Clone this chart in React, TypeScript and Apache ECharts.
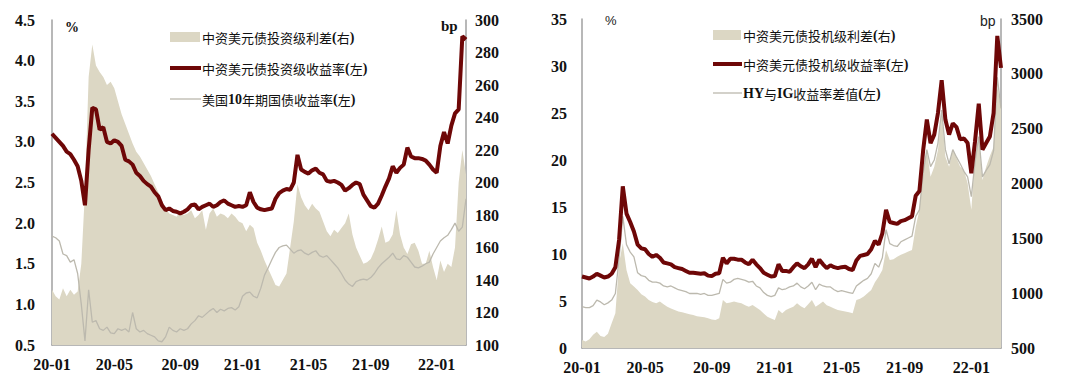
import React, { useEffect, useRef } from "react";
import * as echarts from "echarts";

// Weekly observation dates (Fridays) from 2020-01-03
const START_DATE = "2020-01-03";
const N_WEEKS = 114;
const dates: string[] = [];
{
  const d0 = new Date(START_DATE + "T00:00:00Z");
  for (let i = 0; i < N_WEEKS; i++) {
    const d = new Date(d0.getTime() + i * 7 * 86400000);
    dates.push(d.toISOString().slice(0, 10));
  }
}
const LABEL_MONTHS = [1, 5, 9];

// Left chart: IG
const igSpread = [134, 130, 128, 135, 130, 134, 131, 133, 150, 195, 265, 285, 272, 268, 265, 260, 262, 258, 250, 242,
  236, 230, 224, 219, 216, 212, 208, 204, 199, 194, 189, 184, 181, 180, 179, 182, 180, 181, 183, 178,
  180, 183, 171, 181, 184, 179, 181, 180, 178, 181, 179, 176, 175, 170, 174, 172, 163, 158, 152, 147,
  142, 137, 136, 140, 144, 160, 176, 199, 191, 186, 183, 187, 184, 182, 176, 170, 167, 171, 169, 172,
  175, 181, 168, 160, 155, 150, 151, 153, 158, 165, 173, 163, 164, 168, 183, 168, 160, 156, 162, 163,
  158, 150, 150, 158, 148, 140, 152, 145, 150, 148, 160, 200, 220, 205];
const igYield = [3.10, 3.05, 3.00, 2.95, 2.88, 2.85, 2.78, 2.70, 2.52, 2.22, 2.90, 3.42, 3.40, 3.15, 3.18, 3.00, 2.98, 3.02, 3.00, 2.95,
  2.78, 2.76, 2.72, 2.62, 2.58, 2.52, 2.48, 2.45, 2.38, 2.33, 2.22, 2.16, 2.18, 2.15, 2.14, 2.12, 2.14, 2.17, 2.22, 2.23,
  2.17, 2.20, 2.22, 2.24, 2.20, 2.22, 2.26, 2.28, 2.24, 2.22, 2.20, 2.21, 2.20, 2.22, 2.38, 2.26, 2.19, 2.17, 2.16, 2.17,
  2.18, 2.30, 2.37, 2.40, 2.42, 2.41, 2.50, 2.84, 2.66, 2.63, 2.61, 2.65, 2.67, 2.62, 2.60, 2.52, 2.51, 2.52, 2.50, 2.47,
  2.40, 2.43, 2.47, 2.50, 2.48, 2.35, 2.28, 2.21, 2.19, 2.24, 2.34, 2.45, 2.55, 2.70, 2.62, 2.68, 2.72, 2.93, 2.82, 2.80,
  2.80, 2.79, 2.77, 2.72, 2.66, 2.62, 2.95, 3.12, 2.98, 3.20, 3.35, 3.40, 4.30, 4.26];
const ust10y = [1.84, 1.82, 1.78, 1.62, 1.60, 1.52, 1.55, 1.38, 1.00, 0.55, 1.18, 0.78, 0.80, 0.70, 0.68, 0.72, 0.65, 0.64, 0.70, 0.68,
  0.70, 0.66, 0.90, 0.70, 0.66, 0.68, 0.64, 0.62, 0.60, 0.55, 0.54, 0.60, 0.72, 0.68, 0.66, 0.70, 0.68, 0.70, 0.76, 0.80,
  0.86, 0.84, 0.88, 0.92, 0.95, 0.90, 0.94, 0.92, 0.95, 0.96, 0.93, 0.97, 1.10, 1.14, 1.15, 1.10, 1.08, 1.20, 1.36, 1.45,
  1.55, 1.64, 1.70, 1.72, 1.73, 1.68, 1.63, 1.66, 1.67, 1.63, 1.61, 1.64, 1.66, 1.60, 1.58, 1.60, 1.55, 1.50, 1.45, 1.38,
  1.30, 1.25, 1.22, 1.28, 1.30, 1.31, 1.30, 1.33, 1.38, 1.45, 1.50, 1.54, 1.58, 1.63, 1.56, 1.55, 1.60, 1.58, 1.52, 1.46,
  1.45, 1.47, 1.50, 1.52, 1.62, 1.70, 1.78, 1.82, 1.85, 1.92, 2.00, 1.90, 1.95, 2.30];

// Right chart: HY
const hySpread = [573, 560, 580, 620, 649, 610, 600, 630, 725, 816, 1272, 1455, 1211, 1090, 1060, 1029, 990, 969, 938, 920,
  908, 923, 900, 877, 860, 847, 832, 825, 816, 808, 801, 790, 786, 780, 771, 760, 756, 771, 938, 908,
  915, 923, 915, 908, 890, 877, 893, 870, 847, 815, 786, 770, 756, 847, 816, 847, 862, 877, 908, 880,
  862, 900, 938, 877, 900, 923, 890, 877, 860, 847, 840, 832, 825, 816, 938, 950, 969, 1000, 1029, 1100,
  1150, 1211, 1394, 1302, 1310, 1333, 1350, 1363, 1380, 1394, 1606, 1758, 2123, 2306, 2062, 2153, 2306, 2640, 2245, 2153,
  2306, 2230, 2153, 2123, 2002, 1760, 2245, 2397, 2032, 2153, 2250, 2336, 2880, 2700];
const hyYield = [7.6, 7.5, 7.4, 7.6, 7.9, 7.7, 7.5, 7.6, 7.9, 8.6, 11.5, 17.2, 14.3, 13.4, 12.4, 11.0, 10.6, 10.5, 10.0, 9.7,
  9.9, 9.6, 9.1, 9.0, 8.9, 8.6, 8.5, 8.4, 8.2, 8.0, 8.0, 7.95, 7.9, 7.95, 7.7, 7.65, 7.9, 7.95, 9.6, 9.0,
  9.5, 9.5, 9.4, 9.4, 9.1, 8.9, 9.4, 8.9, 8.5, 8.0, 7.8, 7.6, 7.65, 8.9, 8.2, 8.2, 8.1, 8.6, 9.0, 8.7,
  8.5, 8.9, 9.5, 8.6, 9.4, 8.9, 8.5, 8.8, 8.6, 8.5, 8.6, 8.65, 8.4, 8.3, 9.3, 9.8, 9.9, 10.0, 10.5, 11.4,
  11.0, 12.2, 14.7, 13.4, 13.3, 13.2, 13.5, 13.6, 13.8, 14.0, 16.2, 16.7, 21.0, 24.3, 21.8, 22.7, 25.0, 28.5, 24.3, 22.7,
  23.9, 23.5, 22.2, 22.3, 21.8, 18.6, 22.0, 26.0, 21.1, 21.8, 22.5, 25.0, 33.2, 29.8];
const hyIgDiff = [4.4, 4.3, 4.3, 4.5, 5.1, 4.9, 4.6, 4.8, 5.1, 5.8, 9.5, 14.0, 11.0, 10.2, 9.7, 8.0, 7.7, 7.6, 7.2, 7.0,
  7.0, 6.9, 6.6, 6.5, 6.6, 6.4, 6.2, 6.1, 6.0, 5.8, 5.8, 5.8, 5.7, 5.8, 5.6, 5.6, 5.7, 5.8, 7.3, 6.9,
  7.0, 7.3, 7.4, 7.3, 7.2, 7.0, 7.1, 6.6, 6.4, 5.9, 5.6, 5.46, 5.6, 6.4, 6.2, 6.3, 6.5, 6.6, 6.9, 6.5,
  6.3, 6.6, 7.0, 6.2, 6.8, 6.6, 6.5, 6.5, 6.2, 6.0, 6.1, 6.0, 5.9, 5.8, 6.6, 6.9, 7.2, 7.4, 7.9, 9.0,
  8.6, 9.6, 12.6, 11.1, 10.9, 10.8, 11.3, 11.5, 11.7, 11.9, 14.0, 14.7, 18.6, 21.1, 19.3, 20.0, 21.8, 25.3, 21.1, 19.6,
  21.1, 20.3, 19.6, 18.8, 18.2, 16.1, 19.8, 22.5, 18.2, 18.9, 19.5, 21.0, 28.8, 25.5];

const TAN = "#dcd7c4";
const RED = "#6e0707";
const GRAY = "#bcb9ae";
const AXIS = "#a0a0a0";
const SERIF = "'Liberation Serif', 'Times New Roman', serif";
const CJK = "'Noto Sans CJK SC', sans-serif";

function showLabel(index: number, value: string) {
  const m = parseInt(value.slice(5, 7), 10);
  const d = parseInt(value.slice(8, 10), 10);
  return d <= 7 && LABEL_MONTHS.indexOf(m) >= 0;
}

function xAxisCfg(gridIndex: number) {
  return {
    type: "category",
    gridIndex,
    data: dates,
    boundaryGap: false,
    axisLine: { show: true, lineStyle: { color: AXIS, width: 1.5 } },
    axisTick: { show: true, inside: true, length: 4, interval: showLabel, lineStyle: { color: AXIS } },
    axisLabel: {
      interval: showLabel,
      hideOverlap: false,
      formatter: (v: string) => v.slice(2, 4) + "-" + v.slice(5, 7),
      fontFamily: SERIF,
      fontWeight: "bold",
      fontSize: 16,
      color: "#111",
      margin: 11,
    },
    splitLine: { show: false },
  };
}

function yAxisCfg(gridIndex: number, position: string, min: number, max: number, interval: number, dec: number, margin: number) {
  return {
    type: "value",
    gridIndex,
    position,
    min,
    max,
    interval,
    axisLine: { show: true, lineStyle: { color: AXIS, width: 1.5 } },
    axisTick: { show: false },
    splitLine: { show: false },
    axisLabel: {
      formatter: (v: number) => v.toFixed(dec),
      fontFamily: SERIF,
      fontWeight: "bold",
      fontSize: 16,
      color: "#111",
      margin,
    },
  };
}

function legendText(x: number, y: number, text: string) {
  return {
    type: "text",
    x,
    y,
    style: {
      text,
      verticalAlign: "middle",
      rich: {
        c: { fontFamily: CJK, fontSize: 13, fill: "#111" },
        b: { fontFamily: SERIF, fontWeight: "bold", fontSize: 14, fill: "#111" },
      },
    },
  };
}

export default function App() {
  const ref = useRef<HTMLDivElement>(null);
  useEffect(() => {
    if (!ref.current) return;
    const chart = echarts.init(ref.current, null, { renderer: "svg" });
    chart.setOption({
      animation: false,
      backgroundColor: "#fff",
      grid: [
        { left: 52, top: 20, width: 414, height: 325 },
        { left: 582, top: 19, width: 419, height: 329 },
      ],
      xAxis: [xAxisCfg(0), xAxisCfg(1)],
      yAxis: [
        yAxisCfg(0, "left", 0.5, 4.5, 0.5, 1, 17),
        yAxisCfg(0, "right", 100, 300, 20, 0, 9),
        yAxisCfg(1, "left", 0, 35, 5, 0, 15),
        yAxisCfg(1, "right", 500, 3500, 500, 0, 10),
      ],
      series: [
        {
          name: "中资美元债投资级利差(右)",
          type: "line",
          xAxisIndex: 0,
          yAxisIndex: 1,
          data: igSpread,
          showSymbol: false,
          lineStyle: { width: 0 },
          itemStyle: { color: TAN },
          areaStyle: { color: TAN, opacity: 1, origin: "start" },
          z: 1,
        },
        {
          name: "美国10年期国债收益率(左)",
          type: "line",
          xAxisIndex: 0,
          yAxisIndex: 0,
          data: ust10y,
          showSymbol: false,
          lineStyle: { width: 1.3, color: GRAY },
          itemStyle: { color: GRAY },
          z: 2,
        },
        {
          name: "中资美元债投资级收益率(左)",
          type: "line",
          xAxisIndex: 0,
          yAxisIndex: 0,
          data: igYield,
          showSymbol: false,
          lineStyle: { width: 4, color: RED },
          itemStyle: { color: RED },
          z: 3,
        },
        {
          name: "中资美元债投机级利差(右)",
          type: "line",
          xAxisIndex: 1,
          yAxisIndex: 3,
          data: hySpread,
          showSymbol: false,
          lineStyle: { width: 0 },
          itemStyle: { color: TAN },
          areaStyle: { color: TAN, opacity: 1, origin: "start" },
          z: 1,
        },
        {
          name: "HY与IG收益率差值(左)",
          type: "line",
          xAxisIndex: 1,
          yAxisIndex: 2,
          data: hyIgDiff,
          showSymbol: false,
          lineStyle: { width: 1.3, color: GRAY },
          itemStyle: { color: GRAY },
          z: 2,
        },
        {
          name: "中资美元债投机级收益率(左)",
          type: "line",
          xAxisIndex: 1,
          yAxisIndex: 2,
          data: hyYield,
          showSymbol: false,
          lineStyle: { width: 4, color: RED },
          itemStyle: { color: RED },
          z: 3,
        },
      ],
      graphic: [
        { type: "text", x: 65, y: 20, style: { text: "%", fontFamily: SERIF, fontWeight: "bold", fontSize: 14, fill: "#111" } },
        { type: "text", x: 441, y: 18, style: { text: "bp", fontFamily: SERIF, fontWeight: "bold", fontSize: 15, fill: "#111" } },
        { type: "text", x: 605, y: 14, style: { text: "%", fontFamily: "'Liberation Sans', Arial, sans-serif", fontSize: 13, fill: "#222" } },
        { type: "text", x: 980, y: 14, style: { text: "bp", fontFamily: "'Liberation Sans', Arial, sans-serif", fontSize: 14, fill: "#222" } },
        // left legend
        { type: "rect", shape: { x: 170, y: 32, width: 30, height: 10 }, style: { fill: TAN } },
        legendText(202, 37, "{c|中资美元债投资级利差}{b|(}{c|右}{b|)}"),
        { type: "line", shape: { x1: 170, y1: 68, x2: 201, y2: 68 }, style: { stroke: RED, lineWidth: 4 } },
        legendText(202, 68, "{c|中资美元债投资级收益率}{b|(}{c|左}{b|)}"),
        { type: "line", shape: { x1: 170, y1: 99, x2: 201, y2: 99 }, style: { stroke: GRAY, lineWidth: 1.3 } },
        legendText(202, 99, "{c|美国}{b|10}{c|年期国债收益率}{b|(}{c|左}{b|)}"),
        // right legend
        { type: "rect", shape: { x: 713, y: 30, width: 28, height: 10 }, style: { fill: TAN } },
        legendText(743, 35, "{c|中资美元债投机级利差}{b|(}{c|右}{b|)}"),
        { type: "line", shape: { x1: 713, y1: 64, x2: 742, y2: 64 }, style: { stroke: RED, lineWidth: 4 } },
        legendText(743, 64, "{c|中资美元债投机级收益率}{b|(}{c|左}{b|)}"),
        { type: "line", shape: { x1: 713, y1: 93, x2: 742, y2: 93 }, style: { stroke: GRAY, lineWidth: 1.3 } },
        legendText(743, 93, "{b|HY}{c|与}{b|IG}{c|收益率差值}{b|(}{c|左}{b|)}"),
      ],
    });
    return () => chart.dispose();
  }, []);
  return (
    <div
      ref={ref}
      style={{ position: "absolute", left: 0, top: 0, width: 1080, height: 381, background: "#fff" }}
    />
  );
}
